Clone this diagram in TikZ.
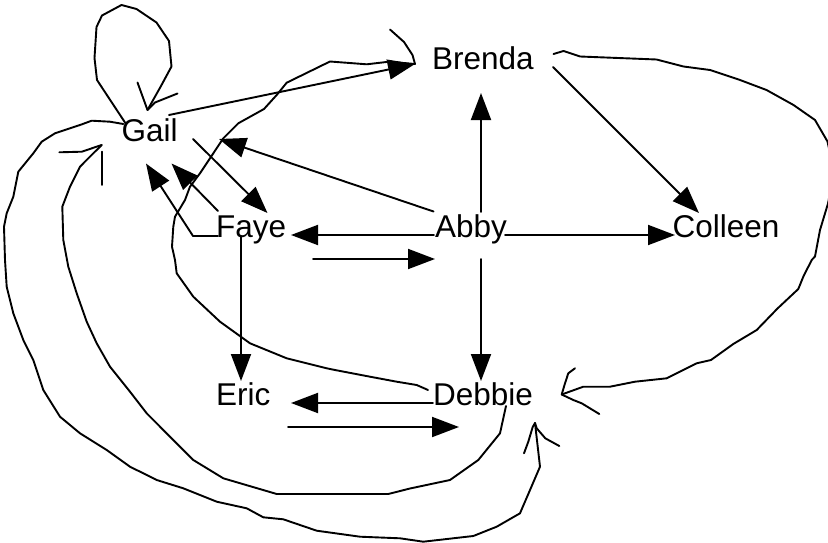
\documentclass[tikz,border=0pt]{standalone}
\usepackage{fontspec}
\setmainfont{Liberation Sans}
\usetikzlibrary{arrows.meta}
\begin{document}
\begin{tikzpicture}[x=1pt,y=-1pt,
  lbl/.style={anchor=base west, inner sep=0pt, font=\fontsize{31.5}{31.5}\selectfont},
  conn/.style={line width=1.9pt, line join=round, line cap=round},
  arr/.style={conn, -{Triangle[length=27pt,width=20pt]}}]
\useasboundingbox (0,0) rectangle (828,543);
% names
\node[lbl] (Gail) at (121.5,141.5) {Gail};
\node[lbl] (Brenda) at (432,69.5) {Brenda};
\node[lbl] (Faye) at (216,237) {Faye};
\node[lbl] (Abby) at (435,237) {Abby};
\node[lbl] (Colleen) at (672.5,237) {Colleen};
\node[lbl] (Eric) at (216,405.5) {Eric};
\node[lbl] (Debbie) at (433,405.5) {Debbie};
% connector end points
\coordinate (abN) at (481,212);
\coordinate (brS) at (481,93);
\coordinate (abE) at (505,235);
\coordinate (coW) at (675,235);
\coordinate (brE) at (553,67);
\coordinate (coN) at (699,213);
\coordinate (abW) at (434,235);
\coordinate (faE) at (291,235);
\coordinate (faE2) at (313,259);
\coordinate (abW2) at (435,259);
\coordinate (abS) at (481,259);
\coordinate (deN) at (481,381);
\coordinate (deW) at (433,403);
\coordinate (erE) at (291,403);
\coordinate (erE2) at (288,427);
\coordinate (deW2) at (459,427);
\coordinate (faS) at (241,236);
\coordinate (erN) at (241,381);
\coordinate (gaSE) at (193,139);
\coordinate (faNE) at (267.5,213);
\coordinate (abNW) at (433.5,211.5);
\coordinate (gaE) at (219,139);
\coordinate (faNW) at (218,211);
\coordinate (gaS1) at (171.5,163.5);
\coordinate (faW) at (218,236);
\coordinate (faC) at (193,236);
\coordinate (gaS2) at (146,163.5);
\coordinate (gaNE) at (169,115);
\coordinate (brW) at (415,64);
% straight connectors
\draw[arr] (abN) -- (brS);
\draw[arr] (abE) -- (coW);
\draw[arr] (brE) -- (coN);
\draw[arr] (abW) -- (faE);
\draw[arr] (faE2) -- (abW2);
\draw[arr] (abS) -- (deN);
\draw[arr] (deW) -- (erE);
\draw[arr] (erE2) -- (deW2);
\draw[arr] (faS) -- (erN);
\draw[arr] (gaSE) -- (faNE);
\draw[arr] (abNW) -- (gaE);
\draw[arr] (faNW) -- (gaS1);
\draw[arr] (faW) -- (faC) -- (gaS2);
\draw[arr] (gaNE) -- (brW);
% Gail self loop
\coordinate (gaNW) at (126,124);
\coordinate (gaN) at (147.5,110);
\draw[conn] (gaNW) -- (97,80) -- (94.5,58) -- (96.5,27) -- (102,15.5) -- (121.5,5) -- (136.5,9)
  -- (156.5,22.5) -- (169,41) -- (171.5,66.5) -- (161,86) -- (gaN);
\draw[conn] (137.5,82.5) -- (gaN) -- (155,102.5) -- (177.5,93.5);
% Debbie -> Brenda (hand drawn)
\coordinate (deNW) at (428,390);
\draw[conn] (deNW) -- (416.7,385) -- (396.7,381.7) -- (370,376.7) -- (335,370) -- (326.7,368.3)
  -- (286.7,358.3) -- (250,343.3) -- (220,321.7) -- (193.3,296.7) -- (176.7,273.3) -- (175,260)
  -- (172,246.7) -- (173.3,226.7) -- (175,216.7) -- (185,200) -- (190,186.7) -- (200,173.3)
  -- (210,158.3) -- (223.3,138.3) -- (238.3,123.3) -- (264,109) -- (276.7,95) -- (286.7,82.7)
  -- (330,61.5) -- (366.7,64.3) -- (389,61.7) -- (brW);
\draw[conn] (brW) -- (412.5,55) -- (404,42) -- (390,29.5);
% Brenda -> Debbie (right loop)
\coordinate (brNE) at (553.5,54);
\coordinate (deE) at (561.7,394.5);
\draw[conn] (brNE) -- (563.5,51) -- (580,56.5) -- (656.5,59.5) -- (683.5,66.5) -- (710,70)
  -- (740,80) -- (766.5,90) -- (793.5,105) -- (815,120) -- (827.5,141.5) -- (834,172)
  -- (828,203.5) -- (820,230) -- (815,256.5) -- (811.7,260) -- (803.3,276.7) -- (798.3,289)
  -- (777.5,308.5) -- (756.7,330) -- (733.3,344) -- (711,360) -- (696.7,363.3) -- (666.7,378.3)
  -- (635,381.7) -- (610,386.7) -- (583.3,386.7) -- (deE);
\draw[conn] (575,368.3) -- (568.3,373.3) -- (565,383.3) -- (deE) -- (573.3,400) -- (581.7,403.3) -- (599.3,414);
% Gail -> Debbie (outer loop)
\coordinate (gaW) at (123.3,124);
\coordinate (deS) at (535,423);
\draw[conn] (gaW) -- (110,121.7) -- (91.7,120.7) -- (80,125) -- (55,133.3) -- (41.7,141.7)
  -- (33.3,153.3) -- (18.3,171.7) -- (13.3,196.7) -- (6.7,213.3) -- (4,226.7) -- (5,260)
  -- (6.7,286.7) -- (13.3,313.3) -- (23.3,340) -- (33.3,360) -- (43.3,390) -- (60,416.7)
  -- (80,433.3) -- (106.7,450) -- (130,466.7) -- (156.7,480) -- (183.3,488.3) -- (216.7,501.7)
  -- (246.7,508.3) -- (263.3,517.3) -- (283.3,519.3) -- (316.7,530.7) -- (360,536.7)
  -- (400,538.3) -- (423.3,541.7) -- (473.3,536) -- (496.7,526.7) -- (520,513.3)
  -- (540,466.7) -- (deS);
\draw[conn] (524,453.3) -- (528.3,441.7) -- (532.7,427) -- (deS) -- (536.7,428.3) -- (545.3,438.3) -- (559.3,446);
% Debbie -> Gail (middle loop)
\coordinate (deSb) at (506,406);
\coordinate (gaSW) at (101.7,145);
\draw[conn] (deSb) -- (500,433.3) -- (478.3,460) -- (450,480) -- (410,488.5) -- (388.3,494)
  -- (276.7,494) -- (223.3,478.3) -- (193.3,460) -- (170,436.7) -- (146.7,413.3) -- (130,391.7)
  -- (110,366.7) -- (96.7,343.3) -- (86.7,321.7) -- (76.7,293.3) -- (68.3,266.7) -- (63.3,240)
  -- (62.3,206.7) -- (70,186.7) -- (80,166.7) -- (88.3,158.3) -- (gaSW);
\draw[conn] (gaSW) -- (81.7,151.7) -- (59.3,152.3);
\draw[conn] (102.3,151.7) -- (102.3,185);
\end{tikzpicture}
\end{document}
